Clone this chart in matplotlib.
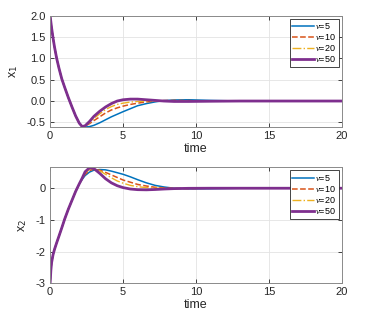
import matplotlib
matplotlib.use("Agg")
import matplotlib.pyplot as plt

t = [0, 0.05, 0.1, 0.2, 0.3, 0.45, 0.6, 0.8, 1.0, 1.25, 1.5, 1.75, 2.0, 2.2, 2.4, 2.7, 3.0,
     3.4, 3.8, 4.2, 4.6, 5.0, 5.5, 6.0, 6.6, 7.2, 7.8, 8.5, 9.5, 11, 13, 15, 20]

x1_common = [2.0, 1.86, 1.72, 1.48, 1.27, 1.0, 0.78, 0.52, 0.32, 0.08, -0.14, -0.35, -0.52]
x2_common = [-3.0, -2.6, -2.35, -2.1, -1.93, -1.72, -1.52, -1.25, -0.97, -0.66, -0.38, -0.1, 0.14]

x1_nu5 = x1_common + [-0.59, -0.61, -0.60, -0.57, -0.51, -0.44, -0.37, -0.31, -0.25, -0.18,
                      -0.11, -0.06, -0.02, 0.01, 0.025, 0.03, 0.015, 0.0, 0.0, 0.0]
x1_nu10 = x1_common + [-0.60, -0.59, -0.53, -0.46, -0.37, -0.28, -0.21, -0.16, -0.12, -0.08,
                       -0.05, -0.02, 0.0, 0.01, 0.015, 0.01, 0.005, 0.0, 0.0, 0.0]
x1_nu20 = x1_common + [-0.60, -0.585, -0.51, -0.41, -0.30, -0.20, -0.13, -0.08, -0.05, -0.025,
                       -0.01, 0.0, 0.005, 0.008, 0.005, 0.0, 0.0, 0.0, 0.0, 0.0]
x1_nu50 = x1_common + [-0.60, -0.58, -0.48, -0.36, -0.24, -0.14, -0.06, 0.0, 0.03, 0.045,
                       0.045, 0.03, 0.015, 0.0, -0.01, -0.01, -0.005, 0.0, 0.0, 0.0]

x2_nu5 = x2_common + [0.28, 0.40, 0.51, 0.57, 0.59, 0.58, 0.54, 0.49, 0.44, 0.36,
                      0.27, 0.17, 0.09, 0.04, 0.0, -0.02, -0.015, 0.0, 0.0, 0.0]
x2_nu10 = x2_common + [0.30, 0.44, 0.56, 0.60, 0.57, 0.50, 0.42, 0.34, 0.26, 0.19,
                       0.12, 0.07, 0.03, 0.01, -0.005, -0.01, 0.0, 0.0, 0.0, 0.0]
x2_nu20 = x2_common + [0.31, 0.47, 0.60, 0.62, 0.55, 0.44, 0.33, 0.23, 0.16, 0.09,
                       0.05, 0.02, 0.005, -0.005, -0.01, -0.005, 0.0, 0.0, 0.0, 0.0]
x2_nu50 = x2_common + [0.32, 0.52, 0.645, 0.62, 0.47, 0.30, 0.17, 0.08, 0.02, -0.025,
                       -0.045, -0.05, -0.04, -0.025, -0.012, -0.003, 0.0, 0.0, 0.0, 0.0]

labels = [r'$\nu$=5', r'$\nu$=10', r'$\nu$=20', r'$\nu$=50']
colors = ['#0072BD', '#D95319', '#EDB120', '#7E2F8E']
styles = ['-', '--', '-.', '-']
widths = [1.1, 1.1, 1.0, 2.0]

plt.rcParams['axes.unicode_minus'] = False
plt.rcParams['font.family'] = ['Liberation Sans', 'DejaVu Sans']
plt.rcParams['mathtext.fontset'] = 'custom'
plt.rcParams['mathtext.it'] = 'Liberation Serif:italic'

fig = plt.figure(figsize=(3.74, 3.16), dpi=100)
ax1 = fig.add_axes([0.134, 0.598, 0.78, 0.352])
ax2 = fig.add_axes([0.134, 0.1035, 0.78, 0.367])

def style(ax, ylabel, ylim, yticks):
    ax.set_xlim(0, 20)
    ax.set_ylim(*ylim)
    ax.set_xticks([0, 5, 10, 15, 20])
    ax.set_yticks(yticks)
    ax.grid(True, color='#e3e3e3', linewidth=0.6)
    ax.set_axisbelow(True)
    ax.tick_params(direction='in', length=3, labelsize=8, colors='#262626',
                   top=True, right=True, width=0.6, pad=3)
    for s in ax.spines.values():
        s.set_color('#8a8a8a')
        s.set_linewidth(0.7)
    ax.set_xlabel('time', fontsize=9, color='#262626', labelpad=1)
    ax.set_ylabel(ylabel, fontsize=9, color='#262626', labelpad=5)

for y, lab, c, ls, lw in zip([x1_nu5, x1_nu10, x1_nu20, x1_nu50], labels, colors, styles, widths):
    ax1.plot(t, y, color=c, linestyle=ls, linewidth=lw, label=lab)
for y, lab, c, ls, lw in zip([x2_nu5, x2_nu10, x2_nu20, x2_nu50], labels, colors, styles, widths):
    ax2.plot(t, y, color=c, linestyle=ls, linewidth=lw, label=lab)

style(ax1, r'x$_{\rm 1}$', (-0.61, 2), [-0.5, 0, 0.5, 1, 1.5, 2])
style(ax2, r'x$_{\rm 2}$', (-3, 0.66), [-3, -2, -1, 0])

for ax in (ax1, ax2):
    leg = ax.legend(loc='upper right', fontsize=6.5, frameon=True, fancybox=False,
                    edgecolor='#262626', framealpha=1, handlelength=2.4,
                    handletextpad=0.15, labelspacing=0.12, borderpad=0.3,
                    borderaxespad=0.3)
    leg.get_frame().set_linewidth(0.6)

fig.savefig('out.png', dpi=100)
